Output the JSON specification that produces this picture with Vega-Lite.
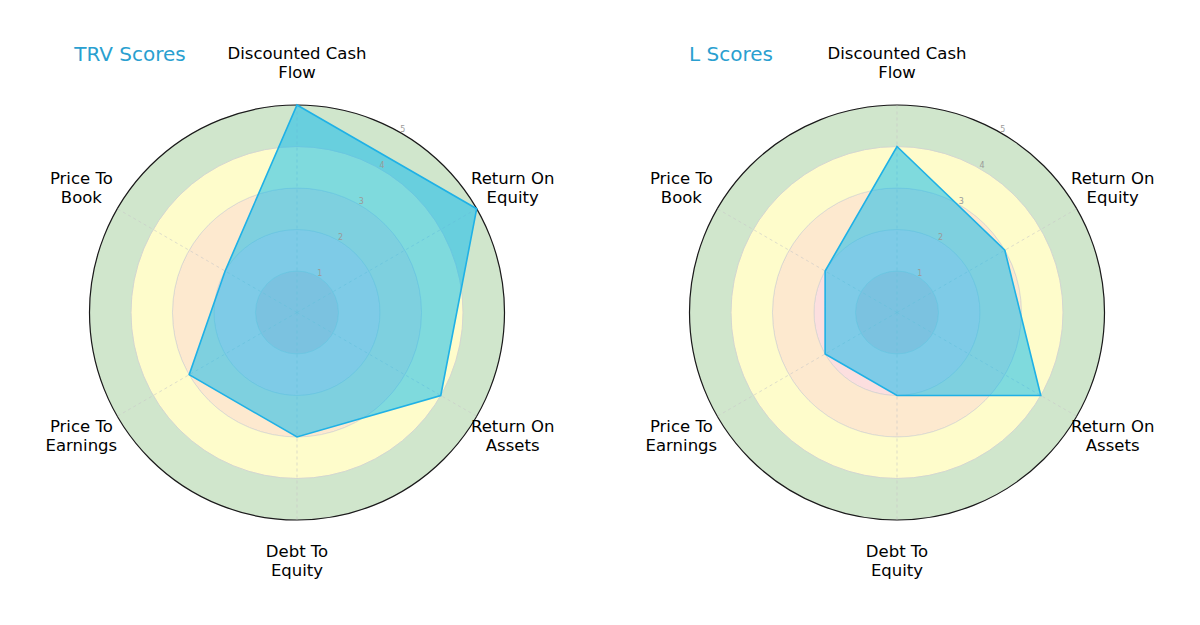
{
  "$schema": "https://vega.github.io/schema/vega-lite/v6.json",
  "config": {"view": {"stroke": null}, "font": "DejaVu Sans"},
  "datasets": {
    "rings": [
      {"band": "0-1", "inner": 0, "outer": 1},
      {"band": "1-2", "inner": 1, "outer": 2},
      {"band": "2-3", "inner": 2, "outer": 3},
      {"band": "3-4", "inner": 3, "outer": 4},
      {"band": "4-5", "inner": 4, "outer": 5}
    ],
    "ticks": [{"tick": 1}, {"tick": 2}, {"tick": 3}, {"tick": 4}, {"tick": 5}],
    "scores": [
      {"company": "TRV", "idx": 0, "metric": "Discounted Cash Flow", "score": 5},
      {"company": "TRV", "idx": 1, "metric": "Return On Equity", "score": 5},
      {"company": "TRV", "idx": 2, "metric": "Return On Assets", "score": 4},
      {"company": "TRV", "idx": 3, "metric": "Debt To Equity", "score": 3},
      {"company": "TRV", "idx": 4, "metric": "Price To Earnings", "score": 3},
      {"company": "TRV", "idx": 5, "metric": "Price To Book", "score": 2},
      {"company": "L", "idx": 0, "metric": "Discounted Cash Flow", "score": 4},
      {"company": "L", "idx": 1, "metric": "Return On Equity", "score": 3},
      {"company": "L", "idx": 2, "metric": "Return On Assets", "score": 4},
      {"company": "L", "idx": 3, "metric": "Debt To Equity", "score": 2},
      {"company": "L", "idx": 4, "metric": "Price To Earnings", "score": 2},
      {"company": "L", "idx": 5, "metric": "Price To Book", "score": 2}
    ]
  },
  "spacing": 16,
  "hconcat": [
    {
      "width": 584,
      "height": 615,
      "title": {"text": "TRV Scores", "anchor": "middle", "dx": -167, "offset": -60, "fontSize": 20, "fontWeight": "normal", "color": "#2a9fd0"},
      "layer": [
        {
          "data": {"name": "rings"},
          "mark": {"type": "arc", "stroke": "#cfcfcf", "strokeWidth": 0.6},
          "encoding": {
            "theta": {"value": 0},
            "theta2": {"value": 6.2832},
            "radius": {"field": "outer", "type": "quantitative", "stack": null, "scale": {"type": "linear", "domain": [0, 5], "range": [0, 207.5], "zero": true}},
            "radius2": {"field": "inner"},
            "color": {"field": "band", "type": "nominal", "legend": null,
              "scale": {"domain": ["0-1", "1-2", "2-3", "3-4", "4-5"], "range": ["#f7cdd0", "#fcdfdf", "#fde9cf", "#fefccb", "#d0e6cc"]}}
          }
        },
        {
          "data": {"name": "rings"},
          "transform": [{"filter": "datum.outer == 5"}],
          "mark": {"type": "arc", "filled": false, "stroke": "#1a1a1a", "strokeWidth": 1.2},
          "encoding": {
            "theta": {"value": 0},
            "theta2": {"value": 6.2832},
            "radius": {"field": "outer", "type": "quantitative", "stack": null, "scale": {"type": "linear", "domain": [0, 5], "range": [0, 207.5], "zero": true}}
          }
        },
        {
          "data": {"name": "scores"},
          "transform": [
            {"filter": "datum.company == 'TRV'"},
            {"calculate": "PI/2 - datum.idx*PI/3", "as": "ang"},
            {"calculate": "0", "as": "o"},
            {"calculate": "5*cos(datum.ang)", "as": "sx"},
            {"calculate": "5*sin(datum.ang)", "as": "sy"}
          ],
          "mark": {"type": "rule", "stroke": "#c8c8c8", "strokeWidth": 0.6, "strokeDash": [3, 3]},
          "encoding": {
            "x": {"field": "o", "type": "quantitative", "axis": null, "scale": {"domain": [-7.036, 7.036], "nice": false, "zero": false}},
            "y": {"field": "o", "type": "quantitative", "axis": null, "scale": {"domain": [-7.41, 7.41], "nice": false, "zero": false}},
            "x2": {"field": "sx"},
            "y2": {"field": "sy"}
          }
        },
        {
          "data": {"name": "scores"},
          "transform": [
            {"filter": "datum.company == 'TRV'"},
            {"calculate": "PI/2 - datum.idx*PI/3", "as": "ang"},
            {"calculate": "datum.score*cos(datum.ang)", "as": "px"},
            {"calculate": "datum.score*sin(datum.ang)", "as": "py"}
          ],
          "mark": {"type": "line", "interpolate": "linear-closed", "fill": "#00b8f0", "fillOpacity": 0.5, "stroke": "#1fb1e6", "strokeWidth": 1.6},
          "encoding": {
            "x": {"field": "px", "type": "quantitative", "axis": null, "scale": {"domain": [-7.036, 7.036], "nice": false, "zero": false}},
            "y": {"field": "py", "type": "quantitative", "axis": null, "scale": {"domain": [-7.41, 7.41], "nice": false, "zero": false}},
            "order": {"field": "idx", "type": "quantitative"}
          }
        },
        {
          "data": {"name": "ticks"},
          "transform": [
            {"calculate": "datum.tick*cos(PI/3)", "as": "tx"},
            {"calculate": "datum.tick*sin(PI/3)", "as": "ty"}
          ],
          "mark": {"type": "text", "fontSize": 8, "color": "#9a9a9a", "dx": 2, "dy": -3},
          "encoding": {
            "x": {"field": "tx", "type": "quantitative", "axis": null, "scale": {"domain": [-7.036, 7.036], "nice": false, "zero": false}},
            "y": {"field": "ty", "type": "quantitative", "axis": null, "scale": {"domain": [-7.41, 7.41], "nice": false, "zero": false}},
            "text": {"field": "tick", "type": "quantitative"}
          }
        },
        {
          "data": {"name": "scores"},
          "transform": [
            {"filter": "datum.company == 'TRV'"},
            {"calculate": "PI/2 - datum.idx*PI/3", "as": "ang"},
            {"calculate": "6*cos(datum.ang)", "as": "lx"},
            {"calculate": "6*sin(datum.ang)", "as": "ly"},
            {"calculate": "slice(datum.metric, 0, lastindexof(datum.metric, ' ')) + '\\n' + slice(datum.metric, lastindexof(datum.metric, ' ') + 1)", "as": "label"}
          ],
          "mark": {"type": "text", "fontSize": 16.5, "lineBreak": "\n", "lineHeight": 19, "color": "#000000", "align": "center", "baseline": "middle", "dy": -9.5},
          "encoding": {
            "x": {"field": "lx", "type": "quantitative", "axis": null, "scale": {"domain": [-7.036, 7.036], "nice": false, "zero": false}},
            "y": {"field": "ly", "type": "quantitative", "axis": null, "scale": {"domain": [-7.41, 7.41], "nice": false, "zero": false}},
            "text": {"field": "label", "type": "nominal"}
          }
        }
      ]
    },
    {
      "width": 584,
      "height": 615,
      "title": {"text": "L Scores", "anchor": "middle", "dx": -166, "offset": -60, "fontSize": 20, "fontWeight": "normal", "color": "#2a9fd0"},
      "layer": [
        {
          "data": {"name": "rings"},
          "mark": {"type": "arc", "stroke": "#cfcfcf", "strokeWidth": 0.6},
          "encoding": {
            "theta": {"value": 0},
            "theta2": {"value": 6.2832},
            "radius": {"field": "outer", "type": "quantitative", "stack": null, "scale": {"type": "linear", "domain": [0, 5], "range": [0, 207.5], "zero": true}},
            "radius2": {"field": "inner"},
            "color": {"field": "band", "type": "nominal", "legend": null,
              "scale": {"domain": ["0-1", "1-2", "2-3", "3-4", "4-5"], "range": ["#f7cdd0", "#fcdfdf", "#fde9cf", "#fefccb", "#d0e6cc"]}}
          }
        },
        {
          "data": {"name": "rings"},
          "transform": [{"filter": "datum.outer == 5"}],
          "mark": {"type": "arc", "filled": false, "stroke": "#1a1a1a", "strokeWidth": 1.2},
          "encoding": {
            "theta": {"value": 0},
            "theta2": {"value": 6.2832},
            "radius": {"field": "outer", "type": "quantitative", "stack": null, "scale": {"type": "linear", "domain": [0, 5], "range": [0, 207.5], "zero": true}}
          }
        },
        {
          "data": {"name": "scores"},
          "transform": [
            {"filter": "datum.company == 'L'"},
            {"calculate": "PI/2 - datum.idx*PI/3", "as": "ang"},
            {"calculate": "0", "as": "o"},
            {"calculate": "5*cos(datum.ang)", "as": "sx"},
            {"calculate": "5*sin(datum.ang)", "as": "sy"}
          ],
          "mark": {"type": "rule", "stroke": "#c8c8c8", "strokeWidth": 0.6, "strokeDash": [3, 3]},
          "encoding": {
            "x": {"field": "o", "type": "quantitative", "axis": null, "scale": {"domain": [-7.036, 7.036], "nice": false, "zero": false}},
            "y": {"field": "o", "type": "quantitative", "axis": null, "scale": {"domain": [-7.41, 7.41], "nice": false, "zero": false}},
            "x2": {"field": "sx"},
            "y2": {"field": "sy"}
          }
        },
        {
          "data": {"name": "scores"},
          "transform": [
            {"filter": "datum.company == 'L'"},
            {"calculate": "PI/2 - datum.idx*PI/3", "as": "ang"},
            {"calculate": "datum.score*cos(datum.ang)", "as": "px"},
            {"calculate": "datum.score*sin(datum.ang)", "as": "py"}
          ],
          "mark": {"type": "line", "interpolate": "linear-closed", "fill": "#00b8f0", "fillOpacity": 0.5, "stroke": "#1fb1e6", "strokeWidth": 1.6},
          "encoding": {
            "x": {"field": "px", "type": "quantitative", "axis": null, "scale": {"domain": [-7.036, 7.036], "nice": false, "zero": false}},
            "y": {"field": "py", "type": "quantitative", "axis": null, "scale": {"domain": [-7.41, 7.41], "nice": false, "zero": false}},
            "order": {"field": "idx", "type": "quantitative"}
          }
        },
        {
          "data": {"name": "ticks"},
          "transform": [
            {"calculate": "datum.tick*cos(PI/3)", "as": "tx"},
            {"calculate": "datum.tick*sin(PI/3)", "as": "ty"}
          ],
          "mark": {"type": "text", "fontSize": 8, "color": "#9a9a9a", "dx": 2, "dy": -3},
          "encoding": {
            "x": {"field": "tx", "type": "quantitative", "axis": null, "scale": {"domain": [-7.036, 7.036], "nice": false, "zero": false}},
            "y": {"field": "ty", "type": "quantitative", "axis": null, "scale": {"domain": [-7.41, 7.41], "nice": false, "zero": false}},
            "text": {"field": "tick", "type": "quantitative"}
          }
        },
        {
          "data": {"name": "scores"},
          "transform": [
            {"filter": "datum.company == 'L'"},
            {"calculate": "PI/2 - datum.idx*PI/3", "as": "ang"},
            {"calculate": "6*cos(datum.ang)", "as": "lx"},
            {"calculate": "6*sin(datum.ang)", "as": "ly"},
            {"calculate": "slice(datum.metric, 0, lastindexof(datum.metric, ' ')) + '\\n' + slice(datum.metric, lastindexof(datum.metric, ' ') + 1)", "as": "label"}
          ],
          "mark": {"type": "text", "fontSize": 16.5, "lineBreak": "\n", "lineHeight": 19, "color": "#000000", "align": "center", "baseline": "middle", "dy": -9.5},
          "encoding": {
            "x": {"field": "lx", "type": "quantitative", "axis": null, "scale": {"domain": [-7.036, 7.036], "nice": false, "zero": false}},
            "y": {"field": "ly", "type": "quantitative", "axis": null, "scale": {"domain": [-7.41, 7.41], "nice": false, "zero": false}},
            "text": {"field": "label", "type": "nominal"}
          }
        }
      ]
    }
  ]
}
